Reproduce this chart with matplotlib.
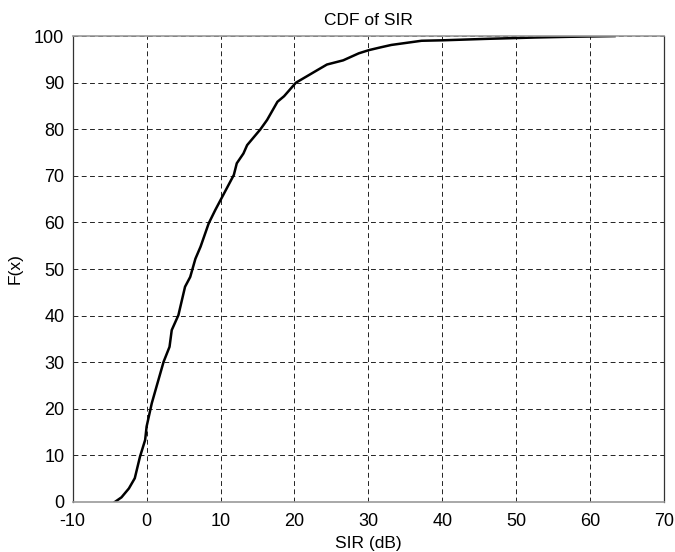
import matplotlib
matplotlib.use('Agg')
import matplotlib.pyplot as plt

plt.rcParams['font.family'] = ['Liberation Sans', 'DejaVu Sans']
plt.rcParams['axes.unicode_minus'] = False

sir_db = [-4.3, -3.4, -2.4, -1.6, -0.9, -0.2, 0.0, 0.7, 1.4, 2.3, 3.1, 3.4,
          4.3, 5.2, 5.9, 6.6, 7.3, 8.4, 9.3, 10.0, 11.8, 12.2, 13.1, 13.6,
          15.4, 16.3, 17.7, 18.6, 20.2, 21.6, 23.1, 24.4, 26.6, 28.7, 30.1,
          31.7, 33.1, 37.2, 40.1, 45.8, 52.6, 57.1, 63.3]
cdf = [0.0, 1.0, 2.9, 5.1, 9.7, 13.3, 16.2, 21.2, 25.1, 30.1, 33.3, 36.9,
       40.1, 46.2, 48.3, 52.2, 54.8, 59.8, 62.7, 64.8, 70.2, 72.7, 74.8, 76.6,
       80.0, 82.0, 85.9, 87.1, 90.0, 91.3, 92.7, 93.9, 94.8, 96.3, 97.0,
       97.6, 98.1, 99.0, 99.1, 99.4, 99.7, 99.85, 100.0]

xticks = list(range(-10, 71, 10))
yticks = list(range(0, 101, 10))

fig = plt.figure(figsize=(6.75, 5.52), dpi=100)
ax = fig.add_axes([0.1077, 0.0906, 0.876, 0.844])

ax.plot(sir_db, cdf, color='black', lw=1.8)

ax.set_xlim(-10, 70)
ax.set_ylim(0, 100)
ax.set_xticks(xticks)
ax.set_yticks(yticks)
ax.tick_params(direction='in', length=0, labelsize=13, pad=6)
ax.tick_params(axis='x', pad=8)
ax.grid(True, color='#222222', lw=0.7, linestyle=(0, (5, 3.5)))
for side in ['top', 'bottom']:
    ax.spines[side].set_color('#999999')
    ax.spines[side].set_linewidth(1.2)
for side in ['left', 'right']:
    ax.spines[side].set_color('#333333')
    ax.spines[side].set_linewidth(0.9)

ax.set_title('CDF of SIR', fontsize=12.5, pad=8)
ax.set_xlabel('SIR (dB)', fontsize=12.5, labelpad=4)
ax.set_ylabel('F(x)', fontsize=12.5, labelpad=8)

fig.savefig('out.png', dpi=100)
